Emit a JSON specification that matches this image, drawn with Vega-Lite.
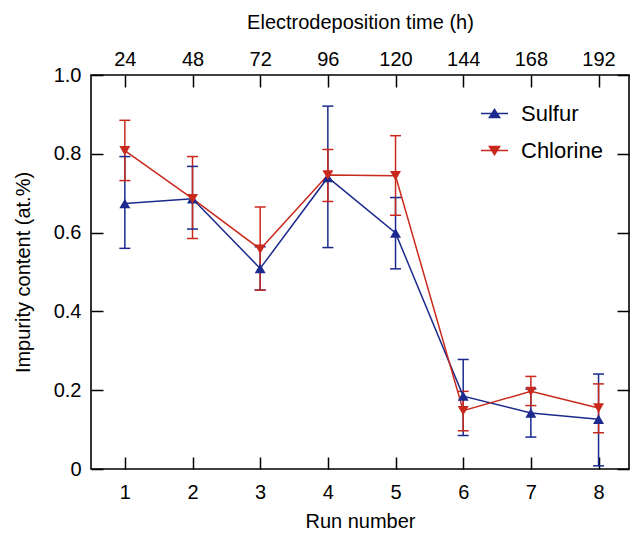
{
  "$schema": "https://vega.github.io/schema/vega-lite/v6.json",
  "width": 538,
  "height": 394,
  "autosize": "none",
  "padding": {"left": 91, "top": 75, "right": 2, "bottom": 65},
  "config": {
    "font": "Liberation Sans",
    "view": {"stroke": "black", "strokeWidth": 1.6},
    "axis": {
      "domain": false, "grid": false, "ticks": true, "tickSize": -12, "tickWidth": 1.5, "tickColor": "black",
      "labelFont": "Liberation Sans", "labelFontSize": 20, "labelColor": "black",
      "titleFont": "Liberation Sans", "titleFontSize": 20, "titleFontWeight": "normal", "titleColor": "black"
    }
  },
  "data": {"values": [
    {"run": 1, "series": "Sulfur", "value": 0.674, "lo": 0.560, "hi": 0.793},
    {"run": 2, "series": "Sulfur", "value": 0.686, "lo": 0.609, "hi": 0.768},
    {"run": 3, "series": "Sulfur", "value": 0.509, "lo": 0.454, "hi": 0.564},
    {"run": 4, "series": "Sulfur", "value": 0.740, "lo": 0.562, "hi": 0.921},
    {"run": 5, "series": "Sulfur", "value": 0.599, "lo": 0.508, "hi": 0.689},
    {"run": 6, "series": "Sulfur", "value": 0.185, "lo": 0.085, "hi": 0.278},
    {"run": 7, "series": "Sulfur", "value": 0.142, "lo": 0.081, "hi": 0.203},
    {"run": 8, "series": "Sulfur", "value": 0.126, "lo": 0.008, "hi": 0.241},
    {"run": 1, "series": "Chlorine", "value": 0.808, "lo": 0.732, "hi": 0.885},
    {"run": 2, "series": "Chlorine", "value": 0.686, "lo": 0.585, "hi": 0.793},
    {"run": 3, "series": "Chlorine", "value": 0.558, "lo": 0.454, "hi": 0.665},
    {"run": 4, "series": "Chlorine", "value": 0.746, "lo": 0.679, "hi": 0.811},
    {"run": 5, "series": "Chlorine", "value": 0.744, "lo": 0.644, "hi": 0.846},
    {"run": 6, "series": "Chlorine", "value": 0.148, "lo": 0.097, "hi": 0.197},
    {"run": 7, "series": "Chlorine", "value": 0.197, "lo": 0.161, "hi": 0.235},
    {"run": 8, "series": "Chlorine", "value": 0.155, "lo": 0.092, "hi": 0.216}
  ]},
  "resolve": {"axis": {"x": "independent", "y": "independent"}, "scale": {"shape": "independent"}, "legend": {"shape": "independent"}},
  "layer": [
    {
      "mark": {"type": "rule", "strokeWidth": 1.5},
      "encoding": {
        "x": {"field": "run", "type": "quantitative", "scale": {"domain": [0.5, 8.45], "nice": false, "zero": false},
              "axis": {"orient": "top", "values": [1,2,3,4,5,6,7,8], "labelExpr": "format(datum.value*24,'d')", "title": "Electrodeposition time (h)", "labelPadding": 18, "titlePadding": 17}},
        "y": {"field": "lo", "type": "quantitative", "scale": {"domain": [0, 1], "nice": false},
              "axis": {"orient": "right", "values": [0, 0.2, 0.4, 0.6, 0.8, 1.0], "labels": false, "title": null}},
        "y2": {"field": "hi"},
        "color": {"field": "series", "type": "nominal", "scale": {"domain": ["Sulfur", "Chlorine"], "range": ["#1b2a8c", "#c9281c"]}, "legend": null}
      }
    },
    {
      "mark": {"type": "tick", "orient": "horizontal", "size": 11, "thickness": 1.5, "opacity": 1},
      "encoding": {
        "x": {"field": "run", "type": "quantitative", "axis": null},
        "y": {"field": "lo", "type": "quantitative", "axis": null},
        "color": {"field": "series", "type": "nominal", "legend": null}
      }
    },
    {
      "mark": {"type": "tick", "orient": "horizontal", "size": 11, "thickness": 1.5, "opacity": 1},
      "encoding": {
        "x": {"field": "run", "type": "quantitative", "axis": null},
        "y": {"field": "hi", "type": "quantitative", "axis": null},
        "color": {"field": "series", "type": "nominal", "legend": null}
      }
    },
    {
      "mark": {"type": "line", "strokeWidth": 1.5},
      "encoding": {
        "x": {"field": "run", "type": "quantitative",
              "axis": {"orient": "bottom", "values": [1,2,3,4,5,6,7,8], "title": "Run number", "labelPadding": 25, "titlePadding": 9}},
        "y": {"field": "value", "type": "quantitative",
              "axis": {"orient": "left", "values": [0, 0.2, 0.4, 0.6, 0.8, 1.0], "labelExpr": "datum.value == 0 ? '0' : format(datum.value, '.1f')", "title": "Impurity content (at.%)", "labelPadding": 22, "titlePadding": 20}},
        "color": {"field": "series", "type": "nominal", "legend": null},
        "order": {"field": "run"}
      }
    },
    {
      "mark": {"type": "point", "filled": true, "opacity": 1, "size": 120},
      "encoding": {
        "x": {"field": "run", "type": "quantitative", "axis": null},
        "y": {"field": "value", "type": "quantitative", "axis": null},
        "color": {"field": "series", "type": "nominal", "legend": null},
        "shape": {"field": "series", "type": "nominal", "scale": {"domain": ["Sulfur", "Chlorine"], "range": ["triangle-up", "triangle-down"]}, "legend": null}
      }
    },
    {
      "mark": {"type": "point", "filled": true, "opacity": 0},
      "encoding": {
        "x": {"field": "run", "type": "quantitative", "axis": null},
        "y": {"field": "value", "type": "quantitative", "axis": null},
        "shape": {"field": "series", "type": "nominal",
                  "scale": {"domain": ["Sulfur", "Chlorine"], "range": ["M-1,-0.05L1,-0.05L1,0.05L-1,0.05Z M0,-0.4L0.48,0.35L-0.48,0.35Z", "M-1,-0.05L1,-0.05L1,0.05L-1,0.05Z M0,0.4L-0.48,-0.35L0.48,-0.35Z"]},
                  "legend": {"title": null, "orient": "none", "legendX": 390, "legendY": 25, "symbolSize": 729, "symbolOpacity": 1, "labelFontSize": 22, "labelFont": "Liberation Sans", "labelColor": "black", "rowPadding": 12, "labelOffset": 13, "symbolStrokeWidth": 0,
                             "encoding": {"symbols": {"fill": {"condition": {"test": "datum.value === 'Sulfur'", "value": "#1b2a8c"}, "value": "#c9281c"}, "opacity": {"value": 1}}}}}
      }
    }
  ]
}
